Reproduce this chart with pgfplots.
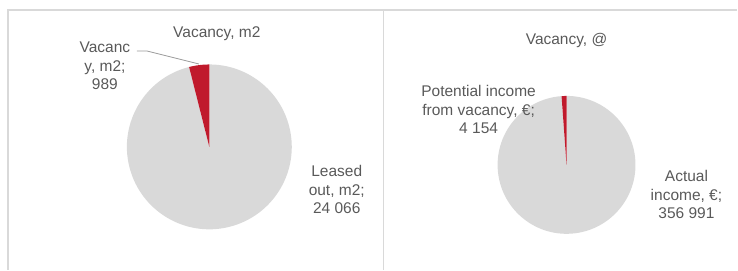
\documentclass[border=0pt]{standalone}
\usepackage{pgfplots}
\pgfplotsset{compat=1.18}
\usepackage{pgfplotstable}
\usepackage{fontspec}
\setmainfont{Liberation Sans}
\definecolor{vacred}{RGB}{192,26,44}
\definecolor{piegray}{RGB}{217,217,217}
\definecolor{txtgray}{RGB}{89,89,89}
\definecolor{framegray}{RGB}{217,217,217}

\pgfplotstableread{
name value
Vacancy 989
Leased 24066
}\tableA
\pgfplotstableread{
name value
Potential 4154
Actual 356991
}\tableB

\pgfplotstablegetelem{0}{value}\of\tableA \let\va\pgfplotsretval
\pgfplotstablegetelem{1}{value}\of\tableA \let\vb\pgfplotsretval
\pgfplotstablegetelem{0}{value}\of\tableB \let\vc\pgfplotsretval
\pgfplotstablegetelem{1}{value}\of\tableB \let\vd\pgfplotsretval
\edef\angA{\fpeval{90+360*\va/(\va+\vb)}}
\edef\angB{\fpeval{90+360*\vc/(\vc+\vd)}}

\begin{document}
\begin{tikzpicture}
\begin{axis}[
  scale only axis, width=738pt, height=270pt,
  xmin=0, xmax=738, ymin=0, ymax=270,
  hide axis, clip=false,
]
\path (axis cs:0,0) rectangle (axis cs:738,270);
% frames
\draw[framegray, line width=1.2pt] (axis cs:8,0) -- (axis cs:8,260) -- (axis cs:738,260);
\draw[framegray, line width=1.2pt] (axis cs:384,0) -- (axis cs:384,260);

\tikzset{lbl/.style={text=txtgray, font=\fontsize{15.5}{18.5}\selectfont, align=center, inner sep=0pt}}

% left pie: centre (209.5,147) px -> y=123
\fill[piegray] (axis cs:209.5,123) -- ++(\angA:82.5pt) arc[start angle=\angA, end angle=450, radius=82.5pt] -- cycle;
\fill[vacred] (axis cs:209.5,123) -- ++(90:82.5pt) arc[start angle=90, end angle=\angA, radius=82.5pt] -- cycle;
\node[lbl] at (axis cs:217,236) {Vacancy, m2};
\node[lbl] at (axis cs:105,204) {Vacanc\\y, m2;\\989};
\draw[gray!80, line width=0.8pt] (axis cs:137,219) -- (axis cs:147,219) -- (axis cs:199,206);
\node[lbl] at (axis cs:337,80) {Leased\\out, m2;\\24 066};

% right pie: centre (567,165) px -> y=105
\fill[piegray] (axis cs:567,105) -- ++(\angB:69pt) arc[start angle=\angB, end angle=450, radius=69pt] -- cycle;
\fill[vacred] (axis cs:567,105) -- ++(90:69pt) arc[start angle=90, end angle=\angB, radius=69pt] -- cycle;
\node[lbl] at (axis cs:567,229) {Vacancy, @};
\node[lbl] at (axis cs:479,160) {Potential income\\from vacancy, €;\\4 154};
\node[lbl] at (axis cs:687,75) {Actual\\income, €;\\356 991};
\end{axis}
\end{tikzpicture}
\end{document}
